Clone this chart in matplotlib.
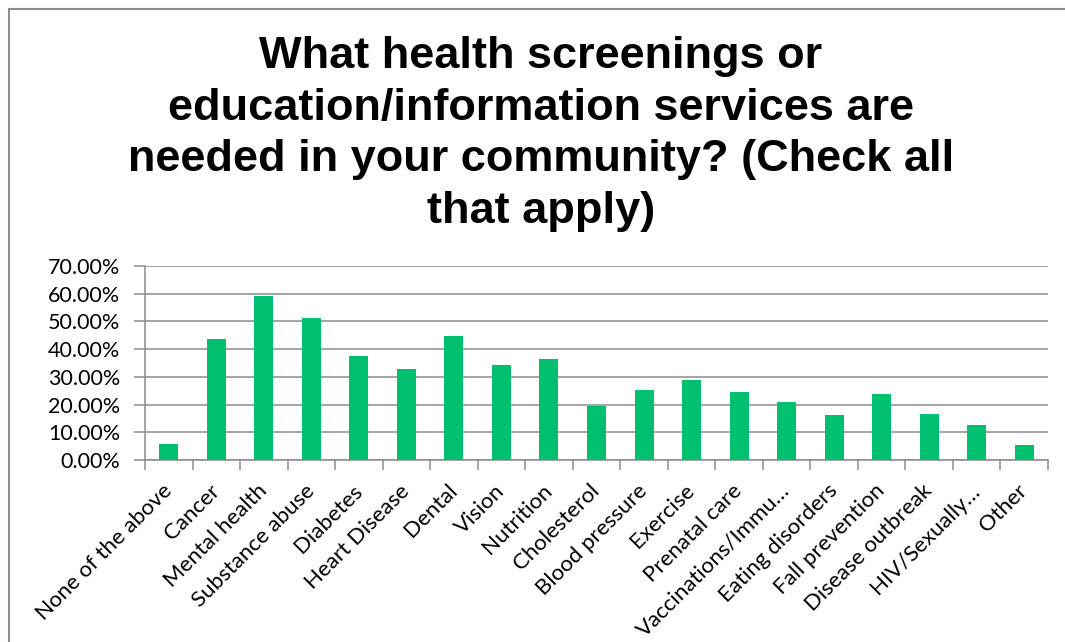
import matplotlib
matplotlib.use("Agg")
import matplotlib.pyplot as plt
from matplotlib.lines import Line2D
from matplotlib.ticker import PercentFormatter, FixedLocator
import numpy as np

categories = ["None of the above", "Cancer", "Mental health", "Substance abuse",
              "Diabetes", "Heart Disease", "Dental", "Vision", "Nutrition",
              "Cholesterol", "Blood pressure", "Exercise", "Prenatal care",
              "Vaccinations/Immu\u2026", "Eating disorders", "Fall prevention",
              "Disease outbreak", "HIV/Sexually\u2026", "Other"]
values = [5.8, 43.6, 59.1, 51.2, 37.6, 32.9, 44.6, 34.4, 36.5,
          19.6, 25.1, 28.9, 24.6, 21.1, 16.1, 23.7, 16.6, 12.6, 5.3]
yticks = [0, 10, 20, 30, 40, 50, 60, 70]
title = ("What health screenings or\neducation/information services are\n"
         "needed in your community? (Check all\nthat apply)")

W, H = 1065, 642
fig = plt.figure(figsize=(W / 100, H / 100), dpi=100)
fig.patch.set_facecolor("white")

grid_c = "#8c8c8c"
ax = fig.add_axes([145 / W, 1 - 460 / H, (1048 - 145) / W, (460 - 266) / H])
x = np.arange(len(categories))
ax.bar(x, values, width=0.4, color="#00BF6F", zorder=3)
ax.set_xlim(-0.5, len(categories) - 0.5)
ax.set_ylim(0, 70)
ax.yaxis.set_major_locator(FixedLocator(yticks))
ax.yaxis.set_major_formatter(PercentFormatter(decimals=2))
ax.grid(axis="y", color=grid_c, linewidth=1.1, zorder=0)
for s in ["top", "right"]:
    ax.spines[s].set_visible(False)
for s in ["left", "bottom"]:
    ax.spines[s].set_color(grid_c)
    ax.spines[s].set_linewidth(1.1)

ax.set_xticks(x)
ax.set_xticklabels(categories, rotation=45, ha="right", va="center",
                   rotation_mode="anchor", fontsize=16,
                   fontfamily="Lato", color="black")
ax.tick_params(axis="x", which="major", length=0, pad=20)
ax.set_xticks(np.arange(len(categories) + 1) - 0.5, minor=True)
ax.tick_params(axis="x", which="minor", length=7, width=1.1, color=grid_c)
ax.tick_params(axis="y", length=8, width=1.1, color=grid_c, pad=10,
               labelsize=15.5)
for lab in ax.get_yticklabels():
    lab.set_fontfamily("Lato")

fig.text(541 / W, 1 - 134 / H, title, ha="center", va="center",
         fontsize=32.5, fontweight="bold", fontfamily="Liberation Sans",
         linespacing=1.33)

fig.add_artist(Line2D([9 / W, 9 / W], [1 - 9 / H, 0], transform=fig.transFigure,
                      color=grid_c, linewidth=1.5))
fig.add_artist(Line2D([9 / W, 1], [1 - 9 / H, 1 - 9 / H], transform=fig.transFigure,
                      color=grid_c, linewidth=1.5))

fig.savefig("out.png", dpi=100)
